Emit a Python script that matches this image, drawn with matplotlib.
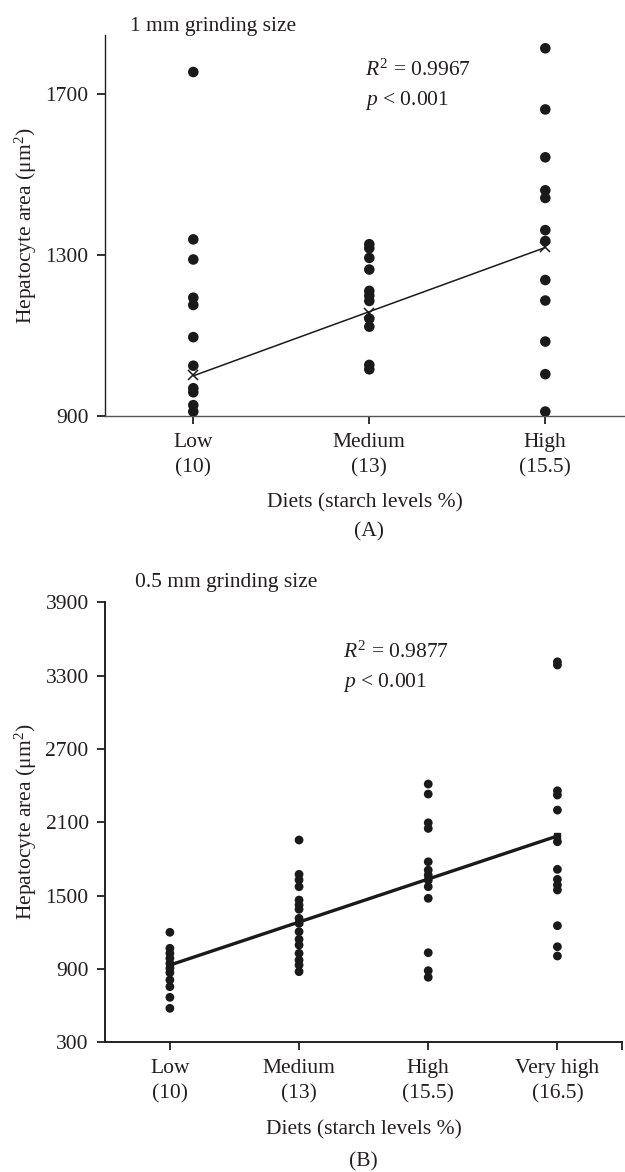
import matplotlib
matplotlib.use("Agg")
import matplotlib.pyplot as plt
import numpy as np

plt.rcParams['font.family'] = ['Liberation Serif', 'DejaVu Serif']
plt.rcParams['mathtext.fontset'] = 'custom'
plt.rcParams['mathtext.rm'] = 'Liberation Serif'
plt.rcParams['mathtext.it'] = 'Liberation Serif:italic'

ink = '#231f20'
fs = 15.5

# panel A: 1 mm grinding size
a_labels = ['Low\n(10)', 'Medium\n(13)', 'High\n(15.5)']
a_low = [1755, 1339, 1289, 1194, 1176, 1096, 1025, 969, 959, 927, 911]
a_med = [1327, 1317, 1293, 1264, 1211, 1199, 1186, 1142, 1122, 1027, 1016]
a_high = [1814, 1662, 1543, 1461, 1442, 1362, 1335, 1238, 1187, 1085, 1004, 911]
a_means = [1002, 1155, 1321]

# panel B: 0.5 mm grinding size
b_labels = ['Low\n(10)', 'Medium\n(13)', 'High\n(15.5)', 'Very high\n(16.5)']
b_low = [1200, 1069, 1028, 987, 946, 905, 869, 810, 755, 668, 578]
b_med = [1955, 1674, 1628, 1573, 1464, 1423, 1388, 1314, 1273, 1205, 1143,
         1096, 1028, 973, 932, 878]
b_high = [2413, 2331, 2096, 2050, 1777, 1709, 1668, 1628, 1573, 1478, 1033, 886, 832]
b_vhigh = [3413, 3387, 2358, 2323, 2200, 1941, 1715, 1633, 1587, 1546, 1254, 1082, 1006]
b_means = [932, 1284, 1636, 1988]

W, H = 625, 1172
fig = plt.figure(figsize=(W / 100, H / 100), dpi=100)


def px_axes(l, t, r, b):
    return fig.add_axes([l / W, 1 - b / H, (r - l) / W, (b - t) / H])


def style(ax, spine_col, lw, width_px):
    for s in ['top', 'right']:
        ax.spines[s].set_visible(False)
    ax.spines['left'].set_color(ink)
    ax.spines['left'].set_linewidth(lw)
    ax.spines['bottom'].set_color(spine_col)
    ax.spines['bottom'].set_linewidth(lw)
    ax.tick_params(direction='out', length=6, width=1.3, colors=ink,
                   labelsize=fs, pad=6)
    for t in ax.get_xticklabels():
        t.set_linespacing(1.45)
    ax.set_ylabel('Hepatocyte area (μm$^2$)', fontsize=fs, color=ink, va='center')
    ax.yaxis.set_label_coords(-(105.3 - 25.5) / width_px, 0.5)


# ---- panel A
ax1 = px_axes(105.3, 35, 625, 416)
for i, grp in enumerate([a_low, a_med, a_high]):
    ax1.scatter(np.full(len(grp), i + 1), grp, s=58, color='#1a1a1a',
                edgecolors='none', zorder=3)
xa = np.arange(1, 4)
k, c = np.polyfit(xa, a_means, 1)
ax1.plot(xa, k * xa + c, color='#1a1a1a', lw=1.1, zorder=4)
ax1.plot(xa, a_means, 'x', color='#1a1a1a', ms=7, mew=1.1, zorder=4)
ax1.set_xlim(0.5, 0.5 + (625 - 105.3) / 176)
ax1.set_ylim(900, 1847)
ax1.set_yticks([900, 1300, 1700])
ax1.set_xticks(xa)
ax1.set_xticklabels(a_labels)
style(ax1, '#555555', 1.0, 625 - 105.3)
fig.text(365 / W, 1 - 70 / H, '$R^2$ = 0.9967', fontsize=fs, color=ink, va='center')
fig.text(365 / W, 1 - 100 / H, '$p$ < 0.001', fontsize=fs, color=ink, va='center')
fig.text(130 / W, 1 - 31 / H, '1 mm grinding size', fontsize=fs, color=ink,
         va='baseline')
fig.text(0.5 * (105.3 + 625) / W, 1 - 503 / H, 'Diets (starch levels %)',
         fontsize=fs, color=ink, ha='center', va='center')
fig.text(368.7 / W, 1 - 532 / H, '(A)', fontsize=fs, color=ink,
         ha='center', va='center')

# ---- panel B
ax2 = px_axes(105.3, 602.3, 622, 1042.3)
for i, grp in enumerate([b_low, b_med, b_high, b_vhigh]):
    ax2.scatter(np.full(len(grp), i + 1), grp, s=40, color='#1a1a1a',
                edgecolors='none', zorder=3)
xb = np.arange(1, 5)
k, c = np.polyfit(xb, b_means, 1)
ax2.plot(xb, k * xb + c, color='#1a1a1a', lw=2.4, zorder=4)
ax2.plot(xb, b_means, 's', color='#1a1a1a', ms=5, zorder=4)
ax2.set_xlim(0.5, 4.5)
ax2.set_ylim(300, 3900)
ax2.set_yticks(np.arange(300, 3901, 600))
ax2.set_xticks([1, 2, 3, 4, 4.5])
ax2.set_xticklabels(b_labels + [''])
style(ax2, ink, 1.4, 622 - 105.3)
fig.text(343 / W, 1 - 652 / H, '$R^2$ = 0.9877', fontsize=fs, color=ink, va='center')
fig.text(343 / W, 1 - 682 / H, '$p$ < 0.001', fontsize=fs, color=ink, va='center')
fig.text(135 / W, 1 - 587 / H, '0.5 mm grinding size', fontsize=fs, color=ink,
         va='baseline')
fig.text(0.5 * (105.3 + 622) / W, 1 - 1130 / H, 'Diets (starch levels %)',
         fontsize=fs, color=ink, ha='center', va='center')
fig.text(0.5 * (105.3 + 622) / W, 1 - 1162 / H, '(B)', fontsize=fs, color=ink,
         ha='center', va='center')

fig.savefig('out.png', dpi=100, facecolor='white')
